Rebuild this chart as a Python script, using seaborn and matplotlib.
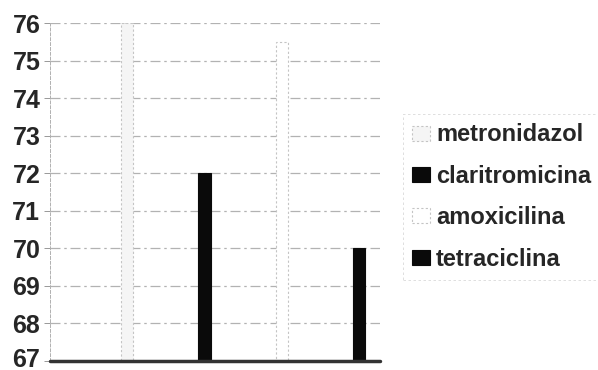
import numpy as np
import pandas as pd
import matplotlib
matplotlib.use('Agg')
import matplotlib.pyplot as plt
import matplotlib.transforms as mtransforms
import seaborn as sns
from matplotlib.patches import Patch

# data
farmacos = ['metronidazol', 'claritromicina', 'amoxicilina', 'tetraciclina']
valores = [76.0, 72.0, 75.5, 70.0]
y_ticks = [67, 68, 69, 70, 71, 72, 73, 74, 75, 76]

cores = {'metronidazol': '#f5f5f5', 'claritromicina': '#0a0a0a',
         'amoxicilina': '#ffffff', 'tetraciclina': '#0a0a0a'}
bordas = {'metronidazol': '#c4c4c4', 'claritromicina': '#0a0a0a',
          'amoxicilina': '#c4c4c4', 'tetraciclina': '#0a0a0a'}

df = pd.DataFrame({'farmaco': farmacos, 'valor': valores})

sns.set_style('white')
plt.rcParams['font.family'] = ['Liberation Sans', 'DejaVu Sans']

fig = plt.figure(figsize=(5.98, 3.70), dpi=100)
ax = fig.add_axes([50 / 598, 9 / 370, 330 / 598, 338 / 370])

# gridlines first so the bars sit on top of them
for v in y_ticks[1:]:
    ax.axhline(v, color='#b2b2b2', lw=0.9, ls=(0, (8, 3, 2, 3)), zorder=0)

sns.barplot(data=df, x='farmaco', y='valor', hue='farmaco', palette=cores,
            width=0.16, legend=False, ax=ax, zorder=2)

for bar, f in zip(ax.patches, farmacos):
    bar.set_edgecolor(bordas[f])
    bar.set_linewidth(0.8)
    if f in ('metronidazol', 'amoxicilina'):
        bar.set_linestyle((0, (2, 2)))

ax.axhline(67, color='#333333', lw=2.5, zorder=3, clip_on=False)

ax.set_ylim(67, 76)
ax.set_xlim(-0.996, 3.27)
ax.set_yticks(y_ticks)
ax.set_yticklabels([str(t) for t in y_ticks], fontsize=18, fontweight='bold')
ax.set_xticks([])
ax.set_xlabel('')
ax.set_ylabel('')
ax.tick_params(axis='y', length=4, width=0.6, color='#888888', pad=3, left=True)

# the bottom label sits at the very edge of the scan; lift it a little so it stays whole
lbl = ax.get_yticklabels()[0]
lbl.set_transform(lbl.get_transform() + mtransforms.ScaledTranslation(0, 4 / 100, fig.dpi_scale_trans))

for s in ['top', 'right', 'bottom']:
    ax.spines[s].set_visible(False)
ax.spines['left'].set_color('#b0b0b0')
ax.spines['left'].set_linewidth(0.7)
ax.spines['left'].set_linestyle((0, (3, 2)))

handles = [Patch(facecolor=cores[f], edgecolor=bordas[f],
                 linestyle='-' if cores[f] == '#0a0a0a' else (0, (2, 2)),
                 linewidth=0.8, label=f) for f in farmacos]
leg = fig.legend(handles=handles, loc='upper left', bbox_to_anchor=(403 / 598, 1 - 114 / 370),
                 frameon=True, fancybox=False, prop={'size': 17, 'weight': 'bold'},
                 handlelength=0.75, handleheight=0.6, handletextpad=0.25,
                 labelspacing=0.78, borderpad=0.4, borderaxespad=0)
leg.get_frame().set_edgecolor('#d0d0d0')
leg.get_frame().set_linewidth(0.6)
leg.get_frame().set_linestyle((0, (3, 3)))

fig.savefig('out.png', dpi=100)
